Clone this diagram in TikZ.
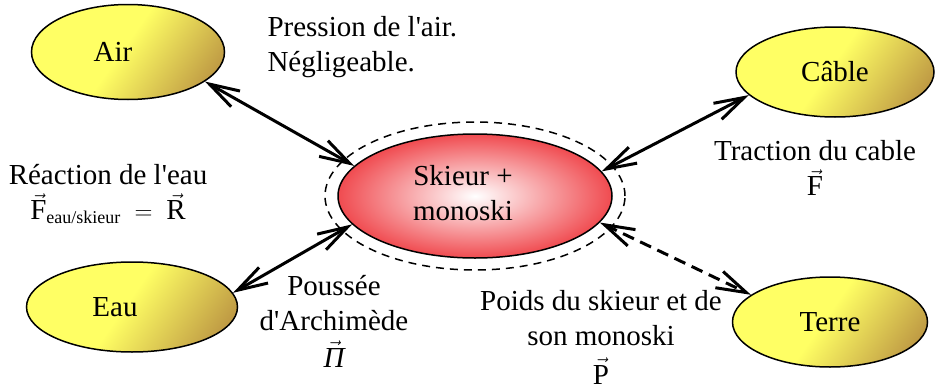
\documentclass[tikz,border=0pt]{standalone}
\usepackage{fontspec}
\setmainfont{Liberation Serif}
\usetikzlibrary{shapes.geometric,arrows.meta}
\definecolor{ylw}{RGB}{255,255,100}
\definecolor{tanb}{RGB}{185,145,65}
\definecolor{redo}{RGB}{240,75,80}
\pgfdeclarehorizontalshading{yelsh}{100bp}{color(0bp)=(ylw); color(48bp)=(ylw); color(80bp)=(tanb); color(100bp)=(tanb)}
\newcommand{\apo}{\textquotesingle}
\begin{document}
\begin{tikzpicture}[x=1pt,y=-1pt,
  every node/.style={font=\fontsize{29}{35}\selectfont},
  body/.style={ellipse, draw, line width=1.5pt, inner sep=0pt, shade, shading=yelsh, shading angle=-35},
  link/.style={line width=3pt, {Straight Barb[length=30pt,width=18pt]}-{Straight Barb[length=30pt,width=18pt]}},
  dlink/.style={link, dash pattern=on 12pt off 7pt}]
\useasboundingbox (0,0) rectangle (935,391);
% system boundary
\node[ellipse, draw, line width=1.5pt, dash pattern=on 8pt off 6pt, minimum width=300pt, minimum height=148pt, inner sep=0pt] (sys) at (475,196) {};
% central body
\node[ellipse, draw, line width=1.5pt, inner sep=0pt, minimum width=274pt, minimum height=124pt, shade, inner color=white, outer color=redo] (sk) at (475,196) {\hspace*{-24pt}\raisebox{-7pt}{\begin{tabular}{@{}c@{}}Skieur +\\monoski\end{tabular}}};
% surrounding bodies
\node[body, minimum width=193pt, minimum height=95pt] (air) at (128,52) {\hspace*{-30pt}Air};
\node[body, minimum width=198pt, minimum height=90pt] (cab) at (835,72) {Câble};
\node[body, minimum width=211pt, minimum height=90pt] (eau) at (132,307) {\hspace*{-34pt}Eau};
\node[body, minimum width=195pt, minimum height=90pt] (ter) at (830,322) {Terre};
% interactions
\draw[link] (air.-21) -- (sk.166);
\draw[link] (sk.11) -- (cab.195);
\draw[link] (eau.8) -- (sk.193);
\draw[dlink] (sk.-12) -- (ter.161);
% labels
\node[anchor=west, align=left] (lair) at (264,47) {Pression de l\apo air.\\Négligeable.};
\node[align=center] (leau) at (108,194) {Réaction de l\apo eau\\$\vec{\mbox{F}}_{\mbox{\fontsize{18}{18}\selectfont eau/skieur}}\;=\;\vec{\mbox{R}}$};
\node[align=center] (larch) at (334,321) {Poussée\\d\apo Archimède\\[2pt]$\vec{\mbox{\itshape Π}}$};
\node[align=center] (lpoids) at (601,337) {Poids du skieur et de\\son monoski\\[4pt]$\vec{\mbox{P}}$};
\node[align=center] (ltrac) at (815,168) {Traction du cable\\$\vec{\mbox{F}}$};
\end{tikzpicture}
\end{document}
